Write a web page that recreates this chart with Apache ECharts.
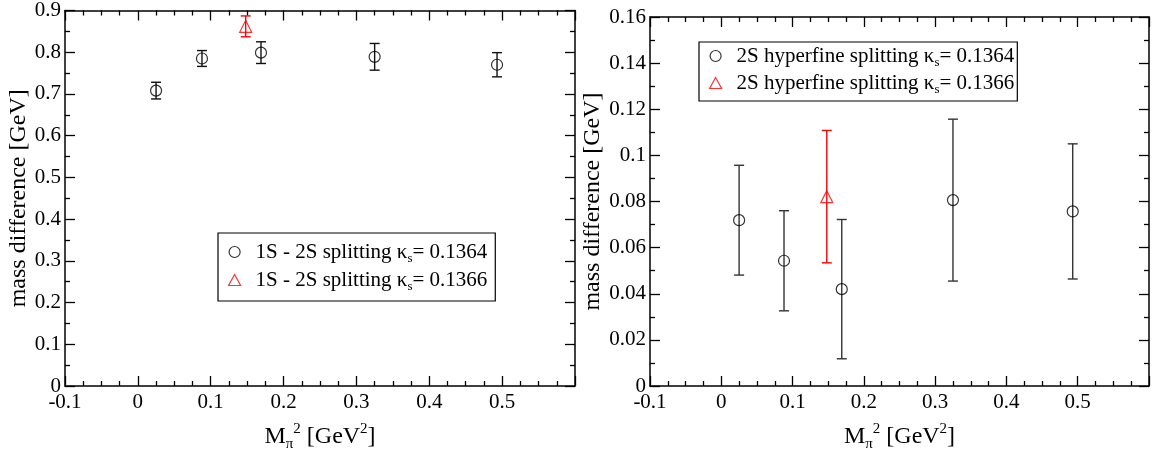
<!DOCTYPE html>
<html>
<head>
<meta charset="utf-8">
<script src="https://cdn.jsdelivr.net/npm/echarts@6/dist/echarts.min.js"></script>
<style>html,body{margin:0;padding:0;background:#fff}#c{width:1152px;height:457px}</style>
</head>
<body>
<div id="c"></div>
<script>
// ---- data ----
const xPts = [0.025, 0.088, 0.169, 0.325, 0.493];
const xRed = [0.148];
const splitVals = [0.708, 0.785, 0.799, 0.789, 0.770];
const splitErrs = [0.020, 0.019, 0.026, 0.032, 0.029];
const splitRedVals = [0.862];
const splitRedErrs = [0.025];
const hfVals = [0.0719, 0.0543, 0.0420, 0.0806, 0.0757];
const hfErrs = [0.0238, 0.0217, 0.0302, 0.0351, 0.0293];
const hfRedVals = [0.0821];
const hfRedErrs = [0.0287];
const legendLeft = ['1S - 2S splitting κs= 0.1364', '1S - 2S splitting κs= 0.1366'];
const legendRight = ['2S hyperfine splitting κs= 0.1364', '2S hyperfine splitting κs= 0.1366'];

const FONT = '"Liberation Serif", "Times New Roman", serif';
const zip = (xs, ys, es) => xs.map((x, i) => [x, ys[i], es[i]]);

function errBar(color, half) {
  return function (params, api) {
    const x = api.value(0), y = api.value(1), e = api.value(2);
    const hi = api.coord([x, y + e]);
    const lo = api.coord([x, y - e]);
    const st = { stroke: color, lineWidth: 1.4 };
    return {
      type: 'group',
      children: [
        { type: 'line', shape: { x1: hi[0], y1: hi[1], x2: lo[0], y2: lo[1] }, style: st },
        { type: 'line', shape: { x1: hi[0] - half, y1: hi[1], x2: hi[0] + half, y2: hi[1] }, style: st },
        { type: 'line', shape: { x1: lo[0] - half, y1: lo[1], x2: lo[0] + half, y2: lo[1] }, style: st }
      ]
    };
  };
}

function xAx(grid, pos, showLabel) {
  return {
    type: 'value', gridIndex: grid, position: pos, min: -0.1, max: 0.6, interval: 0.1,
    axisLine: { show: true, onZero: false, lineStyle: { color: '#000', width: 1.5 } },
    axisTick: { show: true, inside: true, length: 10, lineStyle: { color: '#000', width: 1.3 } },
    minorTick: { show: true, splitNumber: 4, length: 5, lineStyle: { color: '#000', width: 1.3 } },
    splitLine: { show: false },
    axisLabel: {
      show: showLabel, margin: 6,
      textStyle: { fontFamily: 'Liberation Serif', fontSize: 21, color: '#000' },
      fontFamily: 'Liberation Serif', fontSize: 21, color: '#000',
      formatter: v => (v > 0.55 ? '' : String(+v.toFixed(2)))
    },
    name: showLabel ? '{t|M}{sub|π}{sup|2}{t| [GeV}{sup|2}{t|]}' : '',
    nameLocation: 'middle', nameGap: 37, nameMoveOverlap: false,
    nameTextStyle: {
      fontFamily: FONT, fontSize: 24, color: '#000',
      rich: {
        t: { fontFamily: FONT, fontSize: 24, color: '#000', lineHeight: 28 },
        sub: { fontFamily: FONT, fontSize: 15, color: '#000', lineHeight: 28, padding: [15, 0, 0, 0] },
        sup: { fontFamily: FONT, fontSize: 15, color: '#000', lineHeight: 28, padding: [0, 0, 15, 0] }
      }
    }
  };
}
function yAx(grid, pos, showLabel, max, interval, gap) {
  return {
    type: 'value', gridIndex: grid, position: pos, min: 0, max: max, interval: interval,
    axisLine: { show: true, onZero: false, lineStyle: { color: '#000', width: 1.5 } },
    axisTick: { show: true, inside: true, length: 10, lineStyle: { color: '#000', width: 1.3 } },
    minorTick: { show: true, splitNumber: 2, length: 5, lineStyle: { color: '#000', width: 1.3 } },
    splitLine: { show: false },
    axisLabel: {
      show: showLabel, margin: 4,
      fontFamily: 'Liberation Serif', fontSize: 21, color: '#000',
      formatter: v => String(+v.toFixed(3))
    },
    name: showLabel ? 'mass difference [GeV]' : '',
    nameLocation: 'middle', nameGap: gap, nameRotate: 90, nameMoveOverlap: false,
    nameTextStyle: { fontFamily: FONT, fontSize: 24, color: '#000' }
  };
}

const legRich = {
  g: { width: 10 },
  t: { fontFamily: FONT, fontSize: 21, color: '#000', lineHeight: 24 },
  s: { fontFamily: FONT, fontSize: 13, color: '#000', lineHeight: 24, padding: [13, 0, 0, 0] }
};
function legFmt(name) {
  const i = name.indexOf('κs');
  return '{g|}{t|' + name.slice(0, i + 1) + '}{s|s}{t|' + name.slice(i + 2) + '}';
}
function legend(left, top, names, padding, gap) {
  return {
    orient: 'vertical', left: left, top: top,
    borderColor: '#000', borderWidth: 1.2, padding: padding,
    itemWidth: 12, itemHeight: 11, itemGap: gap,
    formatter: legFmt,
    textStyle: { fontFamily: FONT, fontSize: 21, color: '#000', rich: legRich },
    data: [
      { name: names[0], icon: 'circle', itemStyle: { color: 'transparent', borderColor: '#000', borderWidth: 1.2 } },
      { name: names[1], icon: 'triangle', itemStyle: { color: 'transparent', borderColor: '#f00', borderWidth: 1.2 } }
    ]
  };
}

const chart = echarts.init(document.getElementById('c'), null, { renderer: 'canvas' });
chart.setOption({
  backgroundColor: '#fff',
  animation: false,
  textStyle: { fontFamily: 'Liberation Serif' },
  grid: [
    { left: 65, top: 9, width: 510, height: 380 },
    { left: 650, top: 17, width: 500, height: 373 }
  ],
  xAxis: [xAx(0, 'bottom', true), xAx(0, 'top', false), xAx(1, 'bottom', true), xAx(1, 'top', false)],
  yAxis: [yAx(0, 'left', true, 0.9, 0.1, 34), yAx(0, 'right', false, 0.9, 0.1, 10),
          yAx(1, 'left', true, 0.16, 0.02, 45), yAx(1, 'right', false, 0.16, 0.02, 10)],
  legend: [legend(218, 233, legendLeft, [6, 8, 8, 10], 2), legend(699, 42, legendRight, [1, 3, 5, 10], 1)],
  series: [
    { type: 'custom', xAxisIndex: 0, yAxisIndex: 0, renderItem: errBar('#111', 5), data: zip(xPts, splitVals, splitErrs), z: 1 },
    { type: 'custom', xAxisIndex: 0, yAxisIndex: 0, renderItem: errBar('#f00', 5), data: zip(xRed, splitRedVals, splitRedErrs), z: 1 },
    { name: legendLeft[0], type: 'scatter', xAxisIndex: 0, yAxisIndex: 0, symbol: 'circle', symbolSize: 11,
      itemStyle: { color: 'transparent', borderColor: '#000', borderWidth: 1.2 }, data: zip(xPts, splitVals, splitErrs), z: 2 },
    { name: legendLeft[1], type: 'scatter', xAxisIndex: 0, yAxisIndex: 0, symbol: 'triangle', symbolSize: 12,
      itemStyle: { color: 'transparent', borderColor: '#f00', borderWidth: 1.2 }, data: zip(xRed, splitRedVals, splitRedErrs), z: 2 },

    { type: 'custom', xAxisIndex: 2, yAxisIndex: 2, renderItem: errBar('#333', 5), data: zip(xPts, hfVals, hfErrs), z: 1 },
    { type: 'custom', xAxisIndex: 2, yAxisIndex: 2, renderItem: errBar('#f00', 5), data: zip(xRed, hfRedVals, hfRedErrs), z: 1 },
    { name: legendRight[0], type: 'scatter', xAxisIndex: 2, yAxisIndex: 2, symbol: 'circle', symbolSize: 11,
      itemStyle: { color: 'transparent', borderColor: '#000', borderWidth: 1.2 }, data: zip(xPts, hfVals, hfErrs), z: 2 },
    { name: legendRight[1], type: 'scatter', xAxisIndex: 2, yAxisIndex: 2, symbol: 'triangle', symbolSize: 12,
      itemStyle: { color: 'transparent', borderColor: '#f00', borderWidth: 1.2 }, data: zip(xRed, hfRedVals, hfRedErrs), z: 2 }
  ]
});
</script>
</body>
</html>
